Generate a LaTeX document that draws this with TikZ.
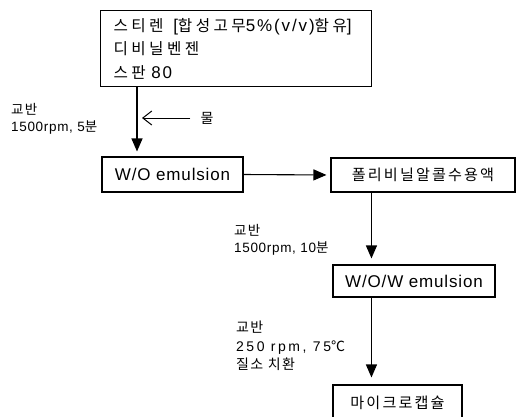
\documentclass[tikz,border=0pt]{standalone}
\usepackage{fontspec}
\setmainfont{Liberation Sans}[LetterSpace=5]
% Hangul inside boxes (scaled to sit with the larger Latin text) and in notes
\newfontfamily\krbox{Noto Sans CJK KR}[LetterSpace=14, Scale=0.89]
\newfontfamily\krtop{Noto Sans CJK KR}[LetterSpace=22, Scale=0.92]
\newfontfamily\kr{Noto Sans CJK KR}[LetterSpace=10]
\newcommand\KB[1]{{\krbox #1}}
\newcommand\KT[1]{{\krtop #1}}
\newcommand\K[1]{{\kr #1}}
\usetikzlibrary{arrows.meta}
\tikzset{
  box/.style={draw, line width=1.1pt, inner sep=0pt, font=\fontsize{17}{18}\selectfont},
  flow/.style={line width=1.1pt, -{Triangle[width=11pt,length=13pt]}},
  feed/.style={line width=1pt, -{Straight Barb[width=14pt,length=9pt]}},
  note/.style={anchor=north west, align=left, inner sep=0pt, font=\fontsize{13.5}{17.5}\selectfont},
}
\begin{document}
\begin{tikzpicture}[x=1pt,y=-1pt]
\useasboundingbox (0,0) rectangle (518,416);

% process boxes
\node[box, anchor=north west, minimum width=271pt, minimum height=76pt,
      text width=245pt, align=left, font=\fontsize{17}{23.5}\selectfont\addfontfeatures{LetterSpace=11}]
  (top) at (100,10) {\KT{스티렌}\hspace{4pt} [\KT{합성고무}5\%(v/v)\KT{함유}]\\\KT{디비닐벤젠}\\\KT{스판} 80};
\node[box, minimum width=141pt, minimum height=35pt] (wo) at (172.5,174.5) {W/O emulsion};
\node[box, minimum width=184pt, minimum height=34pt] (poly) at (423,175) {\KB{폴리비닐알콜수용액}};
\node[box, minimum width=162pt, minimum height=32pt] (wow) at (414,281) {W/O/W emulsion};
\node[box, minimum width=129pt, minimum height=35pt] (cap) at (397.5,402.5) {\KB{마이크로캡슐}};

% water feed
\node[inner sep=0pt, font=\fontsize{14}{17}\selectfont] (mul) at (207,118) {\K{물}};
\coordinate (j1) at (137,118);

% condition labels
\node[note] (c1) at (11,103) {\K{교반}\\1500rpm, 5\K{분}};
\node[note] (c2) at (234,224) {\K{교반}\\1500rpm, 10\K{분}};
\node[note, font=\fontsize{14}{18.5}\selectfont] (c3) at (236,321)
  {\K{교반}\\{\addfontfeatures{LetterSpace=18}250 rpm, 75}\K{℃}\\\K{질소 치환}};

% connectors
\draw[flow, shorten >=5pt] ([xshift=37pt]top.south west) -- ([xshift=37pt]top.south west |- wo.north);
\draw[feed] ([xshift=-10pt]mul.west) -- ([xshift=5pt]j1);
\draw[flow, shorten >=4pt] (wo.east) -- (poly.west);
\draw[flow, shorten >=6pt] ([xshift=41pt]poly.south west) -- ([xshift=41pt]poly.south west |- wow.north);
\draw[flow, shorten >=7pt] ([xshift=39pt]wow.south west) -- ([xshift=39pt]wow.south west |- cap.north);
\end{tikzpicture}
\end{document}
